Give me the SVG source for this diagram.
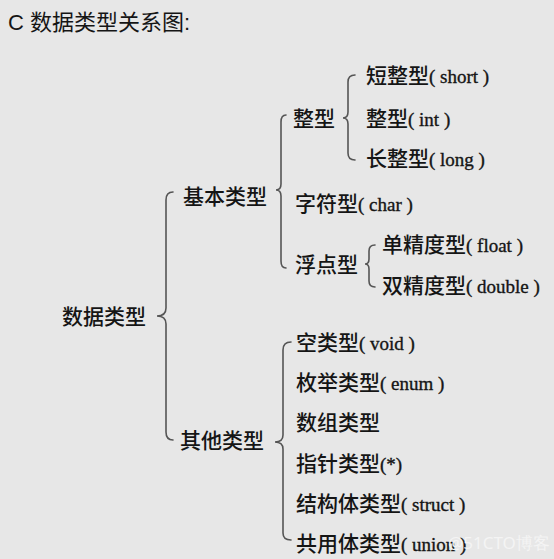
<svg xmlns="http://www.w3.org/2000/svg" width="554" height="559" viewBox="0 0 554 559">
<style>
text{font-family:"Noto Sans CJK SC","Noto Sans",sans-serif;font-size:21px;fill:#151515;font-weight:500}
.l{font-family:"Liberation Serif",serif;font-size:19px;stroke:#151515;stroke-width:0.35}
.b{fill:none;stroke:#555;stroke-width:1.6;stroke-linecap:round}
.t{font-size:22px;font-weight:400}
.tc{font-family:"Liberation Sans",sans-serif;font-size:22px}
.w{fill:#f4f4f4;font-size:17px;font-family:"Noto Sans",sans-serif;font-weight:400}
</style>
<rect width="554" height="559" fill="#e7e7e7"/>
<g id="title"><text class="t" x="8" y="30"><tspan class="tc">C </tspan>数据类型关系图<tspan class="tc">:</tspan></text></g>
<g id="connectors">
<path class="b" d="M173,192 Q166,192 166,200 L166,308 Q166,316 157,316 Q166,316 166,324 L166,432 Q166,440 173,440"/>
<path class="b" d="M286,115 Q281,115 281,122 L281,184 Q281,190 276,190 Q281,190 281,196 L281,261 Q281,268 286,268"/>
<path class="b" d="M355,75 Q348,75 348,82 L348,112 Q348,118 343,118 Q348,118 348,124 L348,153 Q348,160 355,160"/>
<path class="b" d="M375,245 Q369,245 369,251 L369,259 Q369,264 365,264 Q369,264 369,269 L369,281 Q369,287 375,287"/>
<path class="b" d="M291,342 Q283,342 283,350 L283,435 Q283,442 275,442 Q283,442 283,449 L283,533 Q283,540 291,540"/>
</g>
<g id="n-data"><text x="62" y="324">数据类型</text></g>
<g id="n-basic"><text x="183" y="204">基本类型</text></g>
<g id="n-other"><text x="180" y="448">其他类型</text></g>
<g id="n-int"><text x="293" y="126">整型</text></g>
<g id="n-short"><text x="366" y="83">短整型<tspan class="l">( short )</tspan></text></g>
<g id="n-int2"><text x="366" y="126">整型<tspan class="l">( int )</tspan></text></g>
<g id="n-long"><text x="366" y="166">长整型<tspan class="l">( long )</tspan></text></g>
<g id="n-char"><text x="295" y="211">字符型<tspan class="l">( char )</tspan></text></g>
<g id="n-floatgrp"><text x="295" y="272">浮点型</text></g>
<g id="n-float"><text x="382" y="252">单精度型<tspan class="l">( float )</tspan></text></g>
<g id="n-double"><text x="382" y="293">双精度型<tspan class="l">( double )</tspan></text></g>
<g id="n-void"><text x="296" y="350">空类型<tspan class="l">( void )</tspan></text></g>
<g id="n-enum"><text x="296" y="390">枚举类型<tspan class="l">( enum )</tspan></text></g>
<g id="n-array"><text x="296" y="430">数组类型</text></g>
<g id="n-ptr"><text x="296" y="471">指针类型<tspan class="l">(*)</tspan></text></g>
<g id="n-struct"><text x="296" y="511">结构体类型<tspan class="l">( struct )</tspan></text></g>
<g id="n-union"><text x="296" y="551">共用体类型<tspan class="l">( union )</tspan></text></g>
<g id="watermark"><text class="w" x="448" y="549">@51CTO博客</text></g>
</svg>
